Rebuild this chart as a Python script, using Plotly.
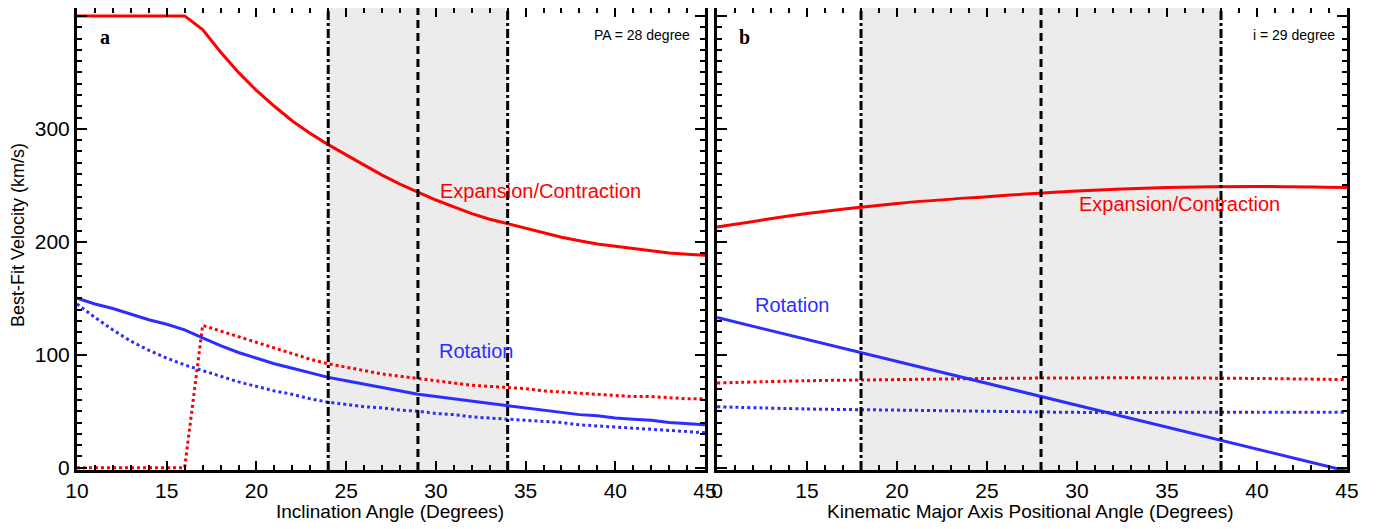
import plotly.graph_objects as go

# ---------------- data ----------------
incl = list(range(10, 46))
a_exp = [400, 400, 400, 400, 400, 400, 400, 388, 368, 350, 334, 320, 307, 296, 286, 277, 268, 259,
         251, 244, 237, 231, 225, 220, 216, 212, 208, 204, 201, 198, 196, 194, 192, 190, 189, 188]
a_rot = [150, 145, 141, 136, 131, 127, 122, 115, 108, 102, 97, 92, 88, 84, 80, 77, 74, 71,
         68, 65, 63, 61, 59, 57, 55, 53, 51, 49, 47, 46, 44, 43, 42, 40, 39, 38]
a_rot_dot = [145, 133, 122, 112, 104, 97, 91, 86, 81, 76, 72, 68, 65, 61, 58, 56, 54, 53,
             51, 50, 48, 47, 45, 44, 43, 42, 41, 40, 38, 37, 36, 35, 34, 33, 32, 31]
a_exp_dot = [0, 0, 0, 0, 0, 0, 0, 126, 121, 116, 111, 106, 101, 96, 92, 89, 86, 83,
             81, 79, 77, 75, 73, 72, 71, 70, 68, 67, 66, 65, 64, 63, 63, 62, 61, 61]

pa = [10, 15, 20, 25, 30, 35, 40, 45]
b_exp = [213, 225, 234, 240, 245, 248, 249, 248]
b_exp_dot = [75, 77, 78, 79, 79.5, 79.5, 79, 78]
b_rot_dot = [54, 52, 51, 50, 49, 49, 49, 49]
pa_rot = [10, 45]
b_rot = [133, -3]

band_a = (24, 34); mid_a = 29
band_b = (18, 38); mid_b = 28

RED = "rgb(255,0,0)"
BLUE = "rgb(45,45,255)"
FONT = "Liberation Sans"

fig = go.Figure()

def add(x, y, color, dash, xa, ya, shape="linear"):
    fig.add_trace(go.Scatter(x=x, y=y, mode="lines", xaxis=xa, yaxis=ya,
                             line=dict(color=color, width=3, dash=dash, shape=shape)))

add(incl, a_exp, RED, "solid", "x", "y")
add(incl, a_exp_dot, RED, "dot", "x", "y")
add(incl, a_rot, BLUE, "solid", "x", "y")
add(incl, a_rot_dot, BLUE, "dot", "x", "y")
add(pa, b_exp, RED, "solid", "x2", "y2", "spline")
add(pa, b_exp_dot, RED, "dot", "x2", "y2", "spline")
add(pa_rot, b_rot, BLUE, "solid", "x2", "y2")
add(pa, b_rot_dot, BLUE, "dot", "x2", "y2", "spline")

shapes = []
for (xr, yr, band, mid) in (("x", "y domain", band_a, mid_a), ("x2", "y2 domain", band_b, mid_b)):
    shapes.append(dict(type="rect", xref=xr, yref=yr, x0=band[0], x1=band[1],
                       y0=0, y1=1, fillcolor="rgb(236,236,236)", line_width=0,
                       layer="below"))
    for xv in band:
        shapes.append(dict(type="line", xref=xr, yref=yr, x0=xv, x1=xv, y0=0, y1=1,
                           line=dict(color="black", width=3, dash="9px,3px,3px,3px")))
    shapes.append(dict(type="line", xref=xr, yref=yr, x0=mid, x1=mid, y0=0, y1=1,
                       line=dict(color="black", width=3, dash="8px,5px")))

YDOM = [0.1267, 1.0]

def xaxis(domain, anchor):
    return dict(showline=True, linewidth=3, linecolor="black", mirror="allticks", ticks="inside",
                ticklen=9, tickwidth=2, tickcolor="black",
                minor=dict(dtick=1, ticklen=5, ticks="inside", tickcolor="black", tickwidth=2),
                domain=domain, range=[10, 45], tick0=10, dtick=5, anchor=anchor,
                showgrid=False, zeroline=False, automargin=False,
                tickfont=dict(family=FONT, size=21, color="black"))

def yaxis(domain, anchor, labelcolor):
    return dict(showline=True, linewidth=3, linecolor="black", mirror="allticks", ticks="inside",
                ticklen=10, tickwidth=2, tickcolor="black",
                minor=dict(dtick=10, ticklen=5, ticks="inside", tickcolor="black"),
                domain=domain, range=[-2, 407], tick0=0, dtick=100, anchor=anchor,
                showgrid=False, zeroline=False, automargin=False,
                tickfont=dict(family=FONT, size=21, color=labelcolor))

xa1 = xaxis([0.05, 0.5051], "y")
xa2 = xaxis([0.5138, 0.9703], "y2")
xa2["labelalias"] = {"10": "0"}

fig.update_layout(
    width=1380, height=529, margin=dict(l=0, r=0, t=0, b=0),
    plot_bgcolor="white", showlegend=False,
    shapes=shapes,
    xaxis=xa1, yaxis=yaxis(YDOM, "x", "black"),
    xaxis2=xa2, yaxis2=yaxis(YDOM, "x2", "rgba(0,0,0,0)"),
)

def ann(text, x, y, size, color="black", xanchor="center", family=FONT, angle=0):
    fig.add_annotation(text=text, x=x, y=y, xref="paper", yref="paper", showarrow=False,
                       xanchor=xanchor, yanchor="middle", textangle=angle,
                       font=dict(family=family, size=size, color=color))

ann("Expansion/Contraction", 0.3116, 0.654, 20, RED, "left")
ann("Expansion/Contraction", 0.7746, 0.6295, 20, RED, "left")
ann("Rotation", 0.3109, 0.3516, 20, BLUE, "left")
ann("Rotation", 0.5399, 0.4386, 20, BLUE, "left")
ann("PA = 28 degree", 0.4957, 0.949, 14, "black", "right")
ann("i = 29 degree", 0.963, 0.949, 14, "black", "right")
ann("<b>a</b>", 0.0703, 0.945, 20, "black", "center", "Liberation Serif")
ann("<b>b</b>", 0.534, 0.945, 20, "black", "center", "Liberation Serif")
ann("Best-Fit Velocity (km/s)", 0.0072, 0.5709, 18, "black", "center", FONT, -90)
ann("Inclination Angle (Degrees)", 0.2768, 0.049, 19)
ann("Kinematic Major Axis Positional Angle (Degrees)", 0.7406, 0.049, 19)

fig.write_html("out.html")
